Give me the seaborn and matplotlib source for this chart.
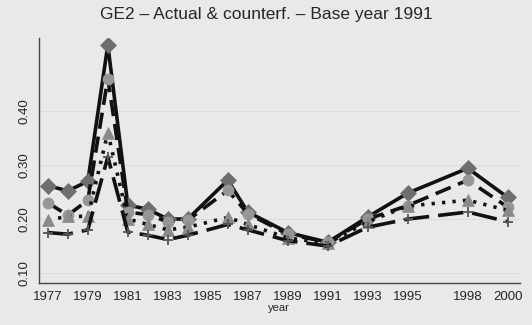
import matplotlib
matplotlib.use("Agg")
import matplotlib.pyplot as plt
import seaborn as sns
import pandas as pd

years = [1977, 1978, 1979, 1980, 1981, 1982, 1983, 1984, 1986, 1987,
         1989, 1991, 1993, 1995, 1998, 2000]

actual = [0.262, 0.252, 0.270, 0.522, 0.226, 0.218, 0.200, 0.200, 0.272, 0.213,
          0.175, 0.157, 0.204, 0.248, 0.294, 0.240]
cf_circle = [0.230, 0.207, 0.235, 0.460, 0.213, 0.208, 0.195, 0.198, 0.253, 0.210,
             0.172, 0.157, 0.200, 0.225, 0.272, 0.222]
cf_triangle = [0.198, 0.205, 0.205, 0.360, 0.200, 0.190, 0.180, 0.185, 0.203, 0.190,
               0.165, 0.155, 0.195, 0.224, 0.235, 0.216]
cf_plus = [0.175, 0.172, 0.180, 0.315, 0.176, 0.170, 0.162, 0.170, 0.190, 0.180,
           0.160, 0.150, 0.185, 0.200, 0.213, 0.195]

xtick_years = [1977, 1979, 1981, 1983, 1985, 1987, 1989, 1991, 1993, 1995, 1998, 2000]
ytick_vals = [0.10, 0.20, 0.30, 0.40]

sns.set_theme(style="white")
plt.rcParams["font.family"] = ["Liberation Sans", "DejaVu Sans"]

bg = "#e9e9e9"
fig = plt.figure(figsize=(5.32, 3.25), dpi=100, facecolor=bg)
ax = fig.add_axes([0.073, 0.129, 0.904, 0.754], facecolor=bg)

for v in ytick_vals:
    ax.axhline(v, color="#dcdcdc", lw=0.8, zorder=0)

series = [
    (actual, "-", "D", "#6e6e6e", 8),
    (cf_circle, (0, (4.5, 2.2)), "o", "#979797", 8),
    (cf_triangle, (0, (0.9, 2.0)), "^", "#8a8a8a", 8),
    (cf_plus, (0, (7, 2.5)), "+", "#555555", 7),
]
for vals, ls, mk, mc, ms in series:
    df = pd.DataFrame({"year": years, "value": vals})
    sns.lineplot(data=df, x="year", y="value", ax=ax, color="#111111",
                 linewidth=2.6, linestyle=ls, marker=mk, markersize=ms,
                 markerfacecolor=mc, markeredgecolor=mc,
                 markeredgewidth=1.3 if mk == "+" else 0.5)

ax.set_xlim(1976.55, 2000.6)
ax.set_ylim(0.0815, 0.535)
ax.set_xticks(xtick_years)
ax.set_xticklabels([str(y) for y in xtick_years], fontsize=9.5)
ax.set_yticks(ytick_vals)
ax.set_yticklabels([f"{v:.2f}" for v in ytick_vals], fontsize=9.5, rotation=90, va="center")
ax.tick_params(axis="both", direction="out", length=4, width=0.8, color="#555555", pad=2)

for side in ["top", "right"]:
    ax.spines[side].set_visible(False)
for side in ["left", "bottom"]:
    ax.spines[side].set_color("#444444")
    ax.spines[side].set_linewidth(1.0)

ax.set_xlabel("year", fontsize=8, labelpad=0)
ax.set_ylabel("")
fig.text(0.5, 0.955, "GE2 \u2013 Actual & counterf. \u2013 Base year 1991",
         ha="center", va="center", fontsize=12.5)

fig.savefig("out.png", dpi=100, facecolor=bg)
